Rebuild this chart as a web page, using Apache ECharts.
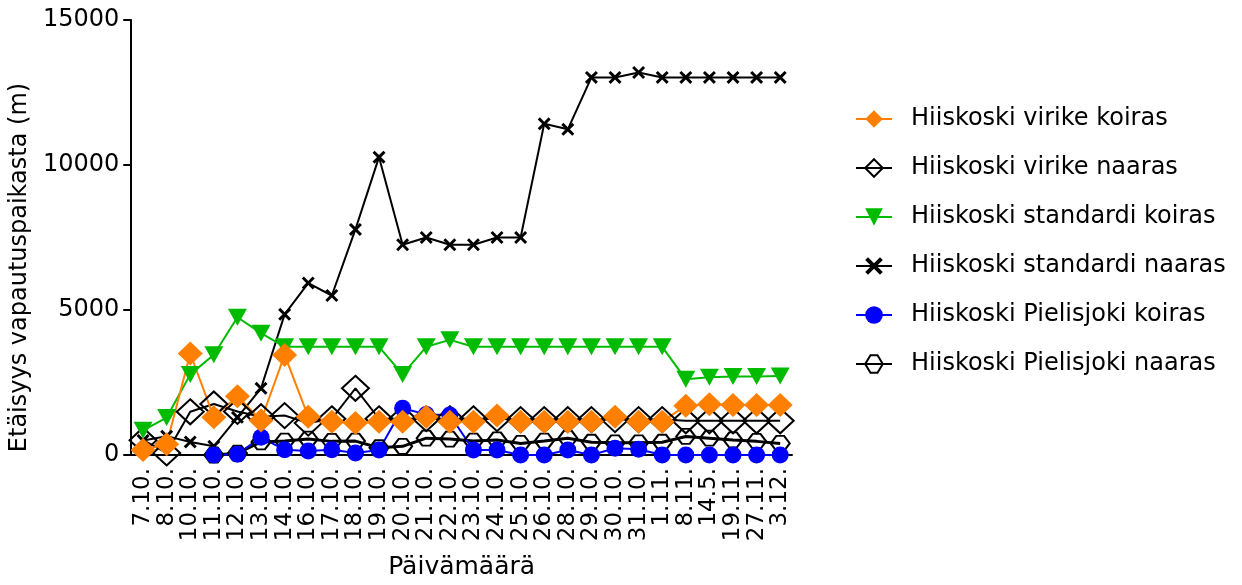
<!DOCTYPE html>
<html><head><meta charset="utf-8">
<script src="https://cdn.jsdelivr.net/npm/echarts@6/dist/echarts.min.js"></script>
<style>html,body{margin:0;padding:0;background:#fff}#c{width:1242px;height:585px}</style>
</head><body><div id="c"></div>
<script>
const categories = ['7.10.','8.10.','10.10.','11.10.','12.10.','13.10.','14.10.','16.10.','17.10.','18.10.','19.10.','20.10.','21.10.','22.10.','23.10.','24.10.','25.10.','26.10.','28.10.','29.10.','30.10.','31.10.','1.11.','8.11.','14.5.','19.11.','27.11.','3.12.'];
const yTicks = [0, 5000, 10000, 15000];

const virikeKoiras = [170, 370, 3500, 1300, 2030, 1190, 3450, 1320, 1150, 1100, 1150, 1150, 1320, 1150, 1150, 1360, 1150, 1150, 1150, 1150, 1320, 1150, 1150, 1700, 1750, 1720, 1720, 1720];
const virikeNaaras = [510, 70, 1490, 1760, 1500, 1320, 1360, 1100, 1250, 2300, 1250, 1250, 1250, 1250, 1250, 1250, 1220, 1220, 1220, 1220, 1220, 1220, 1220, 1180, 1180, 1180, 1180, 1180];
const standardiKoiras = [850, 1290, 2780, 3460, 4750, 4200, 3730, 3730, 3730, 3730, 3730, 2780, 3730, 3970, 3730, 3730, 3730, 3730, 3730, 3730, 3730, 3730, 3730, 2610, 2680, 2710, 2710, 2720];
const standardiNaaras = [500, 650, 450, 300, 1300, 2300, 4850, 5930, 5500, 7780, 10270, 7250, 7500, 7250, 7250, 7500, 7500, 11420, 11230, 13020, 13020, 13190, 13020, 13020, 13020, 13020, 13020, 13020];
const pielisjokiKoiras = [null, null, null, 0, 30, 610, 180, 140, 180, 70, 170, 1610, 1400, 1380, 170, 170, 0, 0, 170, 0, 230, 200, 0, 0, 0, 0, 0, 0];
const pielisjokiNaaras = [null, null, null, 0, 60, 450, 480, 550, 470, 480, 250, 300, 580, 550, 480, 520, 400, 480, 580, 440, 420, 420, 440, 640, 580, 520, 470, 400];

const names = ['Hiiskoski virike koiras','Hiiskoski virike naaras','Hiiskoski standardi koiras','Hiiskoski standardi naaras','Hiiskoski Pielisjoki koiras','Hiiskoski Pielisjoki naaras'];

const FONT = 'DejaVu Sans';
const xSym = 'path://M0,1.6L1.6,0L5,3.4L8.4,0L10,1.6L6.6,5L10,8.4L8.4,10L5,6.6L1.6,10L0,8.4L3.4,5Z';
const hexSym = 'path://M3,0L7,0L10,5L7,10L3,10L0,5Z';

const chart = echarts.init(document.getElementById('c'));
function base(name, data) {
  return { name: name, type: 'line', data: data, showAllSymbol: true, connectNulls: false, animation: false };
}
const series = [
  Object.assign(base(names[5], pielisjokiNaaras), {
    symbol: hexSym, symbolSize: [19, 15],
    itemStyle: { color: 'rgba(255,255,255,0)', borderColor: '#000', borderWidth: 2 },
    lineStyle: { color: '#000', width: 3 }
  }),
  Object.assign(base(names[1], virikeNaaras), {
    symbol: 'diamond', symbolSize: [27, 25],
    itemStyle: { color: 'rgba(255,255,255,0)', borderColor: '#000', borderWidth: 2 },
    lineStyle: { color: '#000', width: 2 }
  }),
  Object.assign(base(names[3], standardiNaaras), {
    symbol: xSym, symbolSize: 13,
    itemStyle: { color: '#000' },
    lineStyle: { color: '#000', width: 2 }
  }),
  Object.assign(base(names[2], standardiKoiras), {
    symbol: 'triangle', symbolRotate: 180, symbolSize: [19, 17],
    itemStyle: { color: '#00BB00' },
    lineStyle: { color: '#00BB00', width: 2 }
  }),
  Object.assign(base(names[4], pielisjokiKoiras), {
    symbol: 'circle', symbolSize: 17,
    itemStyle: { color: '#0000FF' },
    lineStyle: { color: '#0000FF', width: 2 }
  }),
  Object.assign(base(names[0], virikeKoiras), {
    symbol: 'diamond', symbolSize: [25, 24],
    itemStyle: { color: '#FF8000' },
    lineStyle: { color: '#FF8000', width: 2 }
  })
];

chart.setOption({
  animation: false,
  backgroundColor: '#fff',
  textStyle: { fontFamily: FONT, color: '#000' },
  grid: { left: 128, right: 450, top: 20, bottom: 123, containLabel: false },
  legend: {
    data: names, orient: 'vertical', left: 850, top: 102,
    itemWidth: 36, itemHeight: 22, itemGap: 25, selectedMode: false,
    lineStyle: { width: 2 },
    textStyle: { fontFamily: FONT, fontSize: 24, color: '#000', padding: [0, 0, 0, 14] }
  },
  xAxis: {
    type: 'category', data: categories, boundaryGap: true,
    axisLine: { lineStyle: { color: '#000', width: 2 } },
    axisTick: { alignWithLabel: true, length: 10, lineStyle: { color: '#000', width: 2 } },
    axisLabel: { rotate: 90, interval: 0, fontSize: 23, margin: 13, color: '#000', fontFamily: FONT },
    name: 'Päivämäärä', nameLocation: 'middle', nameGap: 100,
    nameTextStyle: { fontSize: 25, color: '#000', fontFamily: FONT },
    splitLine: { show: false }
  },
  yAxis: {
    type: 'value', min: yTicks[0], max: yTicks[yTicks.length - 1], interval: yTicks[1] - yTicks[0],
    axisLine: { show: true, lineStyle: { color: '#000', width: 2 } },
    axisTick: { show: true, length: 8, lineStyle: { color: '#000', width: 2 } },
    axisLabel: { fontSize: 24, margin: 12, color: '#000', fontFamily: FONT, formatter: function (v) { return String(v); } },
    splitLine: { show: false },
    name: 'Etäisyys vapautuspaikasta (m)', nameLocation: 'middle', nameGap: 90,
    nameTextStyle: { fontSize: 24, color: '#000', fontFamily: FONT, padding: [0, 60, 0, 0] }
  },
  series: series
});
</script>
</body></html>
